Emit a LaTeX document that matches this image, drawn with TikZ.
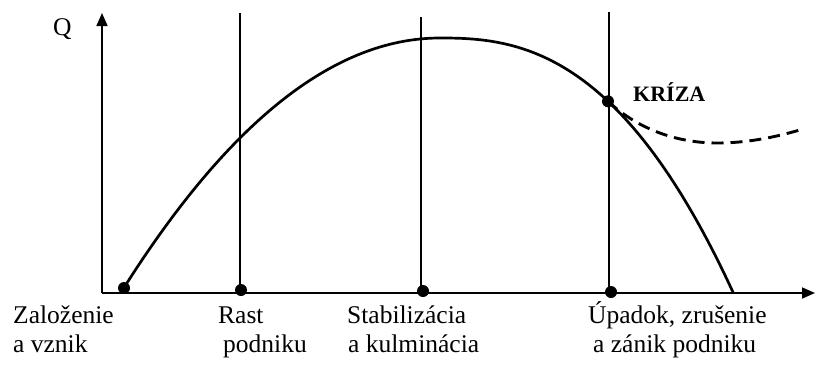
\documentclass[tikz,border=0pt]{standalone}
\usepackage{fontspec}
\setmainfont{Liberation Serif}
\usetikzlibrary{arrows.meta}
\begin{document}
\begin{tikzpicture}[x=1pt,y=-1pt,
  axis/.style={line width=1.7pt,-{Triangle[length=13pt,width=11pt]}},
  phase/.style={line width=2.5pt},
  curve/.style={line width=2.7pt},
  crisis/.style={line width=2.9pt,dash pattern=on 12pt off 7pt},
  dot/.style={fill=black},
  lbl/.style={anchor=base west,inner sep=0pt,font=\fontsize{25.5}{29}\selectfont},
  krlbl/.style={anchor=base west,inner sep=0pt,font=\fontsize{22}{26}\selectfont\bfseries}]
\useasboundingbox (0,0) rectangle (817,365);
% origin and axes
\coordinate (O) at (102,293);
\coordinate (ytop) at (102,13);
\coordinate (xend) at (815,293);
\draw[axis] (O) -- (ytop);
\draw[axis] (O) -- (xend);
\node[lbl] (q) at (53,35) {Q};
% phase lines
\coordinate (v1t) at (240,13);  \coordinate (v1b) at (240,293);
\coordinate (v2t) at (421,17);  \coordinate (v2b) at (421,293);
\coordinate (v3t) at (609,12);  \coordinate (v3b) at (609,293);
\draw[phase] (v1t) -- (v1b);
\draw[phase] (v2t) -- (v2b);
\draw[phase] (v3t) -- (v3b);
% dots
\coordinate (d0) at (124,288);
\coordinate (d1) at (241,290);
\coordinate (d2) at (423,291);
\coordinate (d3) at (611,292);
\coordinate (dk) at (608,101.3);
\coordinate (dmin) at (717,143);
\coordinate (dend) at (803,129);
% life curve
\draw[curve] plot[domain=124:440,samples=80] (\x,{38+25*((440-\x)/100)^2})
  -- plot[domain=440:733,samples=80] (\x,{38+17.3*((\x-440)/100)^2*sqrt((\x-440)/100)});
% crisis branch
\draw[crisis] (dk) .. controls (640,131) and (680,143) .. (dmin)
  .. controls (750,143) and (780,136) .. (dend);
\foreach \p in {d0,d1,d2,d3,dk} \fill[dot] (\p) circle (6);
\node[krlbl] (kriza) at (633,101) {KRÍZA};
% labels
\node[lbl] (l0a) at (13,323) {Založenie};
\node[lbl] (l0b) at (13,352) {a vznik};
\node[lbl] (l1a) at (218,323) {Rast};
\node[lbl] (l1b) at (223,352) {podniku};
\node[lbl] (l2a) at (347,323) {Stabilizácia};
\node[lbl] (l2b) at (348,352) {a kulminácia};
\node[lbl] (l3a) at (588,323) {Úpadok, zrušenie};
\node[lbl] (l3b) at (593,352) {a zánik podniku};
\end{tikzpicture}
\end{document}
